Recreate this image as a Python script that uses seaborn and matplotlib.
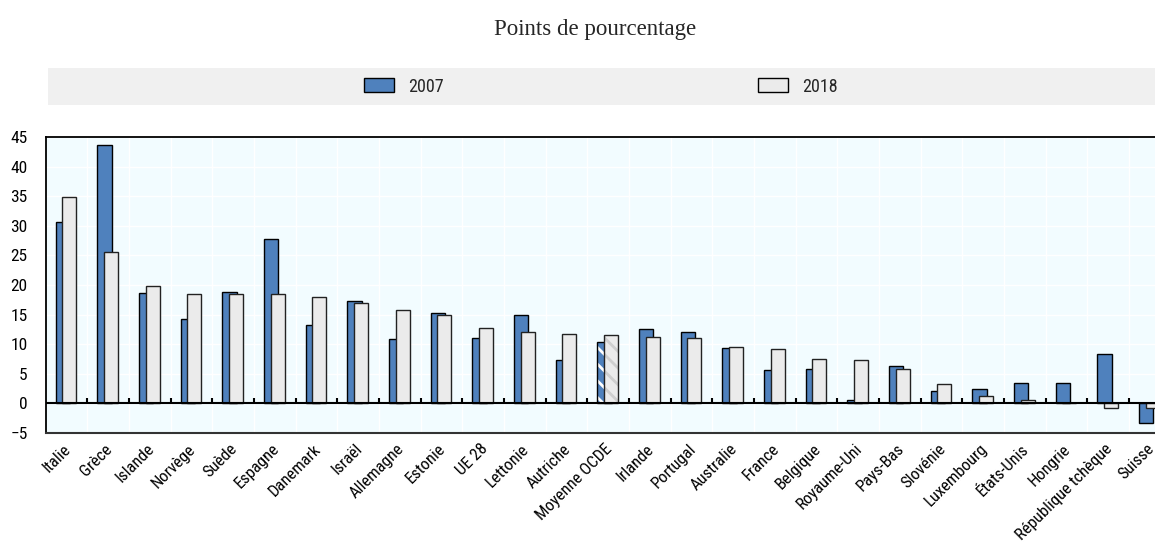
import numpy as np
import pandas as pd
import matplotlib
matplotlib.use('Agg')
import matplotlib.pyplot as plt
import seaborn as sns
from matplotlib import font_manager
from matplotlib.colors import to_rgba
from matplotlib.patches import Patch

pays = ['Italie', 'Grèce', 'Islande', 'Norvège', 'Suède', 'Espagne', 'Danemark',
        'Israël', 'Allemagne', 'Estonie', 'UE 28', 'Lettonie', 'Autriche',
        'Moyenne OCDE', 'Irlande', 'Portugal', 'Australie', 'France', 'Belgique',
        'Royaume-Uni', 'Pays-Bas', 'Slovénie', 'Luxembourg', 'États-Unis',
        'Hongrie', 'République tchèque', 'Suisse']
val_2007 = [30.7, 43.7, 18.6, 14.3, 18.9, 27.7, 13.3, 17.3, 10.9, 15.3, 11.1, 14.9,
            7.4, 10.3, 12.5, 12.0, 9.3, 5.7, 5.8, 0.6, 6.3, 2.1, 2.5, 3.5, 3.5, 8.4, -3.3]
val_2018 = [34.9, 25.6, 19.8, 18.5, 18.5, 18.5, 18.0, 17.0, 15.7, 14.9, 12.8, 12.1,
            11.8, 11.6, 11.3, 11.0, 9.5, 9.2, 7.5, 7.4, 5.8, 3.3, 1.3, 0.6, 0.0, -0.7, -0.7]
annees = ['2007', '2018']
moyenne = 'Moyenne OCDE'

BLEU = '#4F81BD'
GRIS = '#EBEBEB'
FOND = '#F2FCFF'

sns.set_style('white')
# police étroite type Arial Narrow si disponible
noms = {f.name for f in font_manager.fontManager.ttflist}
candidates = ['Arial Narrow', 'Liberation Sans Narrow', 'Roboto Condensed',
              'Archivo Narrow', 'Pragati Narrow']
etroites = [c for c in candidates if c in noms]
etroite = len(etroites) > 0
police = etroites[0] if etroite else 'Liberation Sans'
plt.rcParams['font.family'] = [police, 'Liberation Sans', 'DejaVu Sans']
plt.rcParams['hatch.linewidth'] = 2.0

fig = plt.figure(figsize=(11.55, 5.45), dpi=100)
W, H = 1155, 545
ax = fig.add_axes([45.6 / W, 112 / H, 1125 / W, 296 / H])
ax.set_facecolor(FOND)

pos = np.arange(len(pays))
largeur = 0.34
sns.barplot(x=pos - 0.085, y=val_2007, native_scale=True, width=largeur, color=BLEU,
            saturation=1, edgecolor='black', linewidth=1.0, orient='x', ax=ax, zorder=2)
n1 = len(ax.patches)
sns.barplot(x=pos + 0.07, y=val_2018, native_scale=True, width=largeur, color=GRIS,
            saturation=1, edgecolor='#222222', linewidth=1.0, orient='x', ax=ax, zorder=2)

# Moyenne OCDE hachurée
i = pays.index(moyenne)
for p, c in [(ax.patches[i], 'white'), (ax.patches[n1 + i], '#CFCFCF')]:
    p.set_hatch('\\\\')
    if hasattr(p, 'set_hatchcolor'):
        p.set_hatchcolor(c)
    else:
        p._hatch_color = to_rgba(c)

taille_x = 12 if etroite else 10.5
taille_y = 12.5 if etroite else 11
ax.set_xlim(-0.5, len(pays) - 0.5)
ax.set_ylim(-5, 45)
ax.set_yticks(np.arange(-5, 50, 5))
ax.set_xticks(pos - 0.08)
ax.set_xticklabels(pays, rotation=45, ha='right', rotation_mode='anchor', fontsize=taille_x)
ax.tick_params(axis='x', length=0, pad=6, colors='black')
ax.tick_params(axis='y', direction='in', length=5, width=1, pad=13, labelsize=taille_y,
               colors='black')

# grille blanche
for y in np.arange(-5, 50, 5):
    ax.axhline(y, color='white', lw=1.0, zorder=0.5)
for x in pos[:-1] + 0.5:
    ax.axvline(x, color='white', lw=1.0, zorder=0.5)

ax.axhline(0, color='black', lw=1.5, zorder=3)
ax.vlines(pos[:-1] + 0.5, 0, 0.9, color='black', lw=1.5, zorder=3)

for s in ['top', 'left', 'right']:
    ax.spines[s].set_color('black')
    ax.spines[s].set_linewidth(1.3)
ax.spines['bottom'].set_color('#333333')
ax.spines['bottom'].set_linewidth(1.5)
ax.set_xlabel('')
ax.set_ylabel('')

# bandeau de légende
bande = fig.add_axes([48 / W, 1 - 105 / H, 1 - 48 / W, 37 / H])
bande.set_facecolor('#F0F0F0')
bande.set_xticks([])
bande.set_yticks([])
for s in bande.spines.values():
    s.set_visible(False)
poignees = [Patch(facecolor=BLEU, edgecolor='black'), Patch(facecolor=GRIS, edgecolor='black')]
bande.legend(poignees, annees, loc='center', ncol=2, frameon=False,
             bbox_to_anchor=((601 - 48) / (W - 48), 0.5), fontsize=13 if etroite else 11.5,
             handlelength=1.67, handleheight=0.83, handletextpad=0.78, columnspacing=17.4)

fig.text(595 / W, 1 - 30 / H, 'Points de pourcentage', ha='center', va='center',
         family=['Liberation Serif', 'DejaVu Serif'], fontsize=16.5)

fig.savefig('out.png', dpi=100)
